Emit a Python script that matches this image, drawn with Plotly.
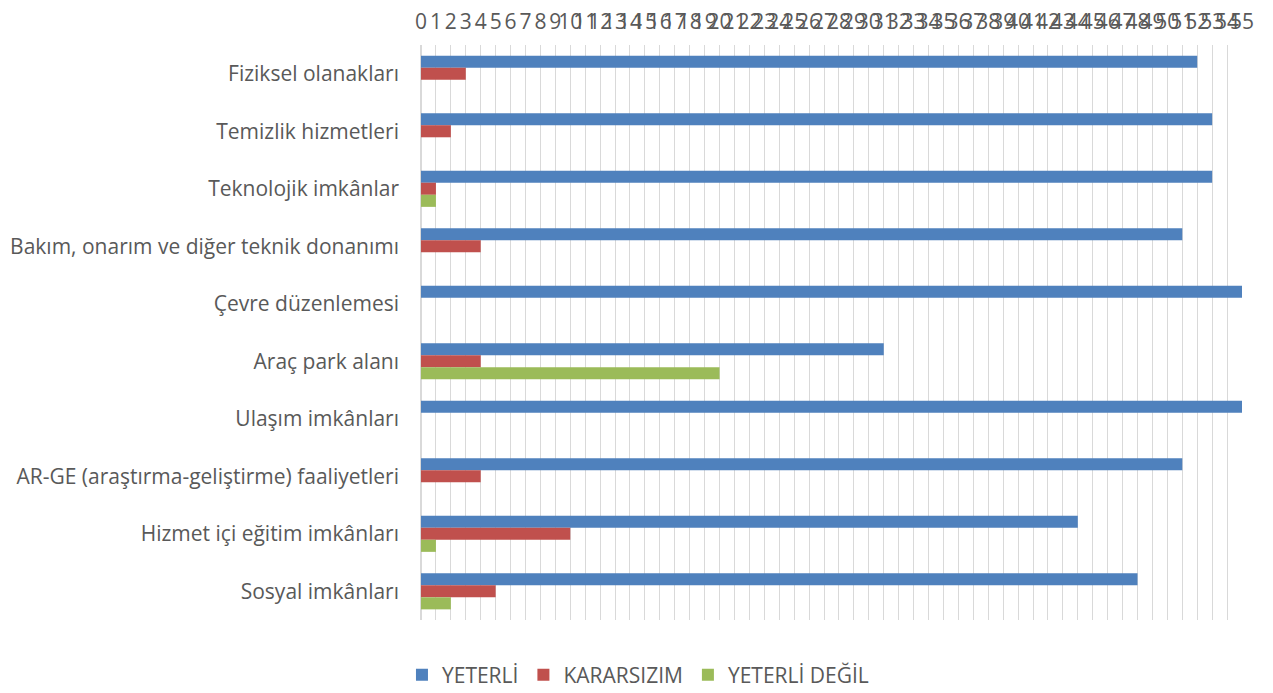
import plotly.graph_objects as go

categories = ["Fiziksel olanakları", "Temizlik hizmetleri", "Teknolojik imkânlar",
              "Bakım, onarım ve diğer teknik donanımı", "Çevre düzenlemesi", "Araç park alanı",
              "Ulaşım imkânları", "AR-GE (araştırma-geliştirme) faaliyetleri",
              "Hizmet içi eğitim imkânları", "Sosyal imkânları"]
yeterli = [52, 53, 53, 51, 55, 31, 55, 51, 44, 48]
kararsizim = [3, 2, 1, 4, 0, 4, 0, 4, 10, 5]
yeterli_degil = [0, 0, 1, 0, 0, 20, 0, 0, 1, 2]

series = [("YETERLİ", yeterli, "#4f81bd"),
          ("KARARSIZIM", kararsizim, "#c0504d"),
          ("YETERLİ DEĞİL", yeterli_degil, "#9bbb59")]

fig = go.Figure()
for name, vals, color in series:
    fig.add_trace(go.Bar(y=categories, x=vals, name=name, orientation="h",
                         marker=dict(color=color, line=dict(width=0))))

font = "Open Sans"
fig.update_layout(
    width=1265, height=685,
    barmode="group", bargap=0.37, bargroupgap=0,
    plot_bgcolor="white", paper_bgcolor="white",
    margin=dict(l=413, r=31, t=37, b=73, autoexpand=False),
    font=dict(family=font, size=21, color="#595959"),
    xaxis=dict(side="top", range=[0, 55], dtick=1, tick0=0, showgrid=True,
               gridcolor="#d9d9d9", gridwidth=1, zeroline=True, zerolinecolor="#d9d9d9",
               showline=False, ticks="", tickangle=0,
               tickfont=dict(size=21, color="#595959"), ticklabelstandoff=11),
    yaxis=dict(autorange="reversed", showgrid=False, showline=False, ticks="",
               tickfont=dict(size=21, color="#595959"), ticklabelstandoff=21),
    legend=dict(orientation="h", xref="container", yref="container", x=0.498, y=0.026,
                xanchor="center", yanchor="middle", font=dict(size=21, color="#595959"),
                itemwidth=30, tracegroupgap=0),
)
fig.write_html("out.html")
